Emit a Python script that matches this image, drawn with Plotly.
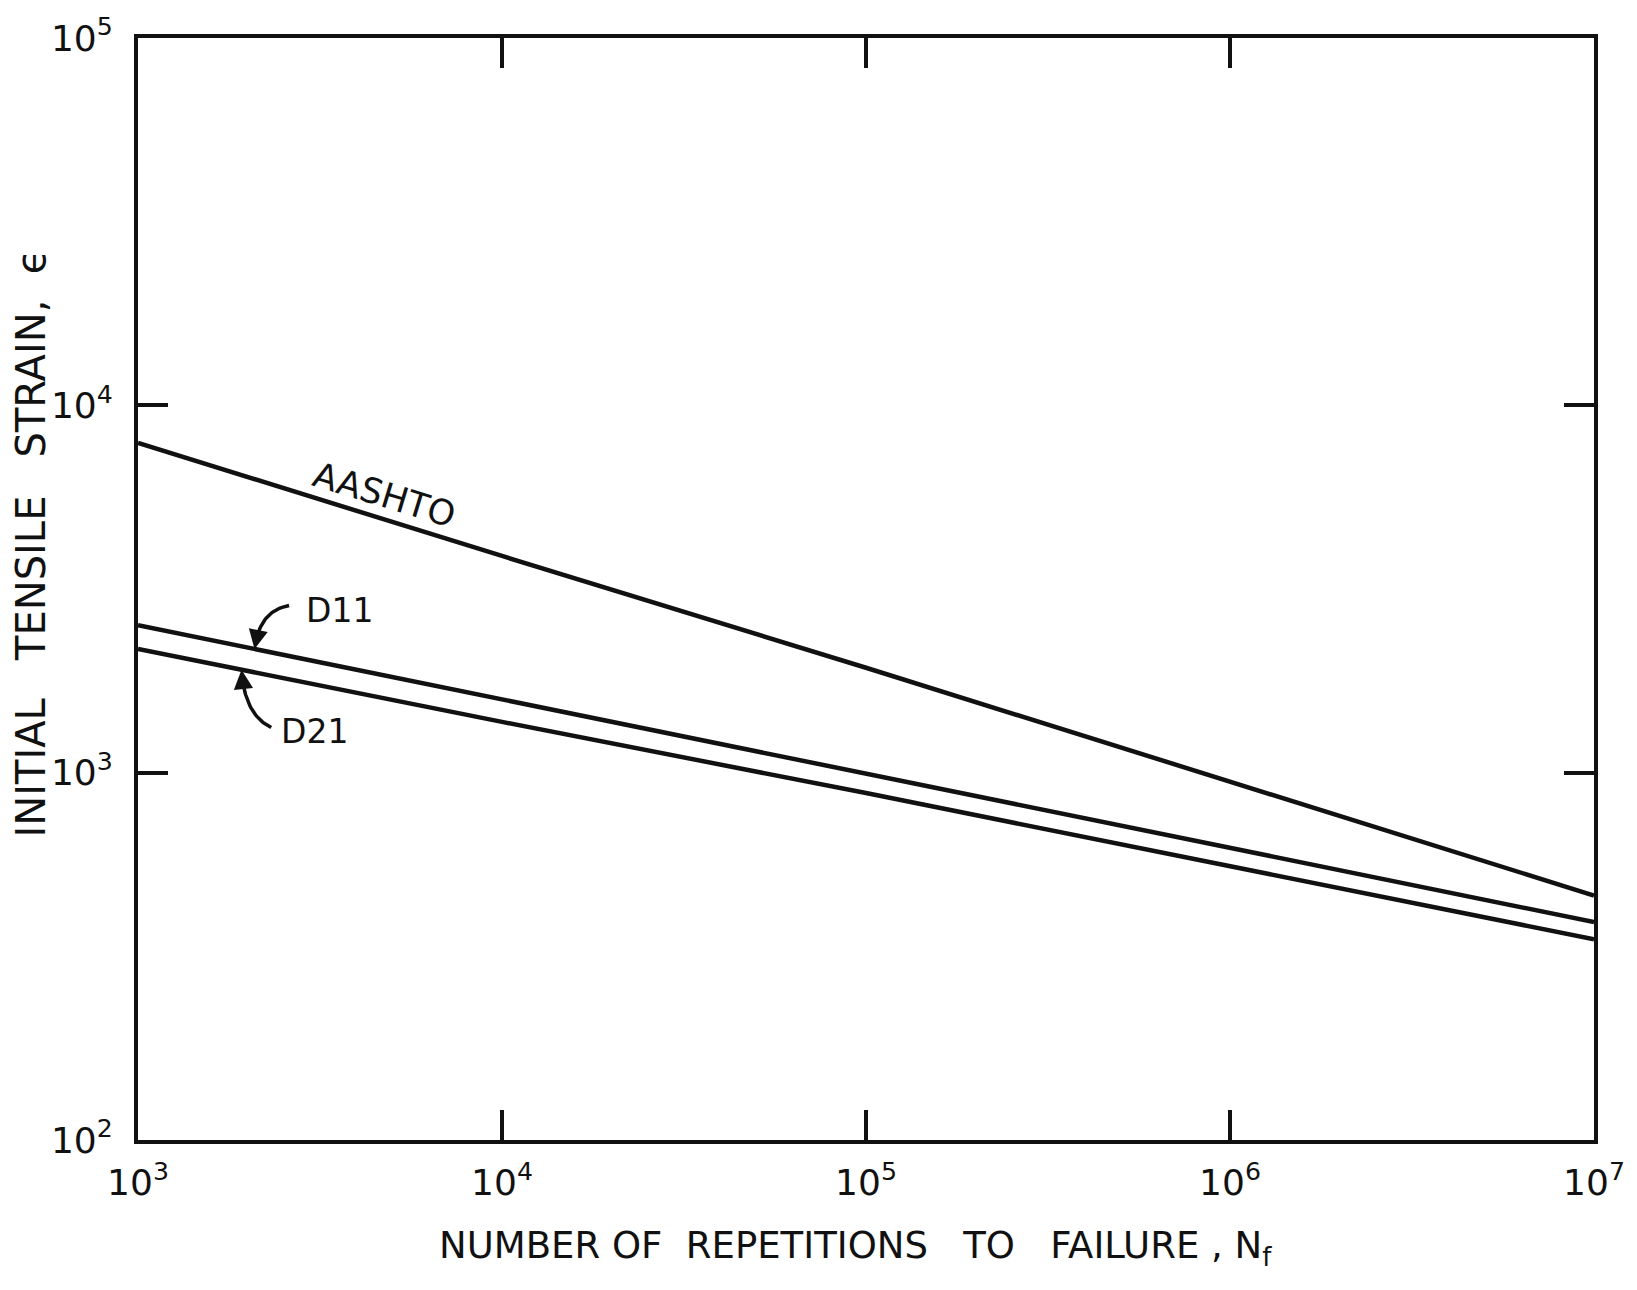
import numpy as np
import plotly.graph_objects as go

# Fatigue criteria: initial tensile strain vs. repetitions to failure
repetitions = [1e3, 1e4, 1e5, 1e6, 1e7]
aashto_strain = [7900, 3890, 1930, 945, 463]
d11_strain = [2520, 1580, 995, 625, 392]
d21_strain = [2170, 1375, 880, 555, 352]

x_tick_vals = [1e3, 1e4, 1e5, 1e6, 1e7]
x_tick_text = ["10<sup>3</sup>", "10<sup>4</sup>", "10<sup>5</sup>", "10<sup>6</sup>", "10<sup>7</sup>"]
y_tick_vals = [1e2, 1e3, 1e4, 1e5]
y_tick_text = ["10<sup>2</sup>", "10<sup>3</sup>", "10<sup>4</sup>", "10<sup>5</sup>"]

FONT = "DejaVu Sans, Liberation Sans, sans-serif"
INK = "#111111"

fig = go.Figure()
for name, vals in [("AASHTO", aashto_strain), ("D11", d11_strain), ("D21", d21_strain)]:
    fig.add_trace(go.Scatter(x=repetitions, y=vals, mode="lines", name=name,
                             line=dict(color=INK, width=4.5), hoverinfo="skip"))


def log_interp(series, n):
    """Strain on a log-log straight segment at repetitions n."""
    return 10 ** np.interp(np.log10(n), np.log10(repetitions), np.log10(series))


def curved_pointer(start, ctrl, tip_n, series, tip_dir):
    """Quadratic curve (in log space) ending on a curve, with an arrowhead."""
    tip = (np.log10(tip_n), np.log10(log_interp(series, tip_n)))
    t = np.linspace(0, 1, 30)
    px = (1 - t) ** 2 * start[0] + 2 * (1 - t) * t * ctrl[0] + t ** 2 * tip[0]
    py = (1 - t) ** 2 * start[1] + 2 * (1 - t) * t * ctrl[1] + t ** 2 * tip[1]
    fig.add_trace(go.Scatter(x=10 ** px[:-3], y=10 ** py[:-3], mode="lines",
                             line=dict(color=INK, width=3.5), hoverinfo="skip",
                             showlegend=False))
    fig.add_annotation(x=tip[0], y=tip[1], xref="x", yref="y", text="",
                       showarrow=True, arrowhead=2, arrowsize=1.1, arrowwidth=3.5,
                       arrowcolor=INK, ax=tip_dir[0], ay=tip_dir[1])


curved_pointer((3.415, 3.455), (3.333, 3.441), 2090, d11_strain, (4, -20))
curved_pointer((3.366, 3.123), (3.292, 3.158), 1925, d21_strain, (2, 20))

fig.add_annotation(x=3.677, y=3.755, xref="x", yref="y", text="AASHTO",
                   showarrow=False, textangle=17,
                   font=dict(family=FONT, size=35, color=INK))
label_font = dict(family=FONT, size=33, color=INK)
fig.add_annotation(x=3.456, y=3.441, xref="x", yref="y", text="D11",
                   showarrow=False, xanchor="left", yanchor="middle", font=label_font)
fig.add_annotation(x=3.387, y=3.112, xref="x", yref="y", text="D21",
                   showarrow=False, xanchor="left", yanchor="middle", font=label_font)

# Axis titles
fig.add_annotation(x=0.493, y=-0.098, xref="paper", yref="paper",
                   xanchor="center", yanchor="middle",
                   text="NUMBER OF  REPETITIONS   TO   FAILURE , N<sub>f</sub>",
                   showarrow=False, font=dict(family=FONT, size=37, color=INK))
fig.add_annotation(x=-0.0737, y=0.541, xref="paper", yref="paper",
                   xanchor="center", yanchor="middle",
                   text="INITIAL   TENSILE   STRAIN,  \u03f5", textangle=-90,
                   showarrow=False, font=dict(family=FONT, size=40, color=INK))

axis_common = dict(type="log", showgrid=False, zeroline=False, showline=True,
                   linecolor=INK, linewidth=4, mirror="ticks", ticks="inside",
                   ticklen=30, tickwidth=4, tickcolor=INK,
                   tickfont=dict(family=FONT, size=36, color=INK))

fig.update_xaxes(range=[3, 7], tickmode="array", tickvals=x_tick_vals,
                 ticktext=x_tick_text, ticklabelstandoff=8, **axis_common)
fig.update_yaxes(range=[2, 5], tickmode="array", tickvals=y_tick_vals,
                 ticktext=y_tick_text, ticklabelstandoff=14, **axis_common)

fig.update_layout(width=1637, height=1290, showlegend=False,
                  margin=dict(l=138, r=33, t=36, b=150),
                  paper_bgcolor="white", plot_bgcolor="white")

fig.write_html("out.html")
